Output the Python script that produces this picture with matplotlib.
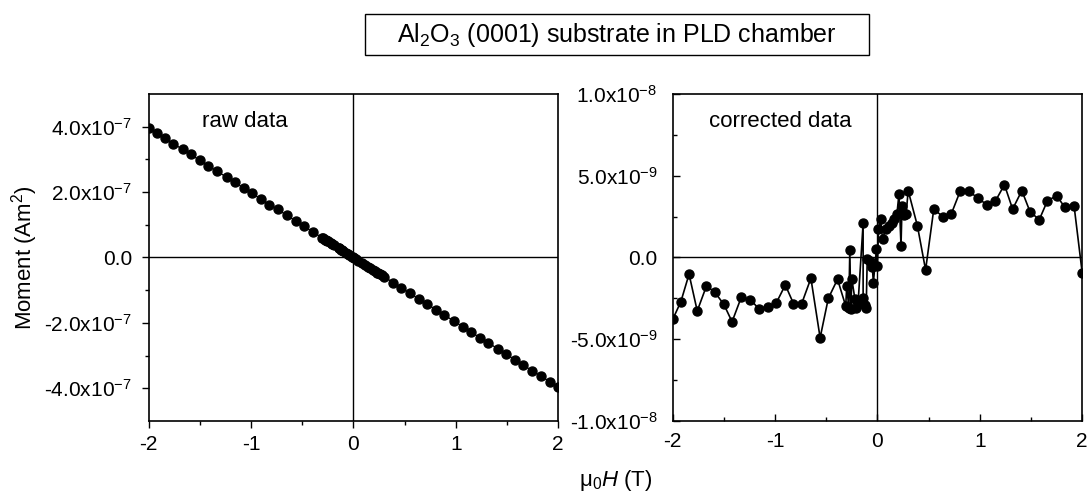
import matplotlib
matplotlib.use("Agg")
import matplotlib.pyplot as plt
import numpy as np
from matplotlib.patches import Rectangle
from matplotlib.ticker import FixedLocator, FixedFormatter, MultipleLocator

plt.rcParams['font.family'] = ['Liberation Sans', 'DejaVu Sans']
plt.rcParams['mathtext.fontset'] = 'custom'
plt.rcParams['mathtext.rm'] = 'Liberation Sans'
plt.rcParams['mathtext.it'] = 'Liberation Sans:italic'
plt.rcParams['mathtext.sf'] = 'Liberation Sans'
plt.rcParams['axes.unicode_minus'] = False

# field (T), same for both panels
field = [-2.0, -1.92, -1.84, -1.76, -1.67, -1.59, -1.50, -1.42, -1.33, -1.24,
         -1.16, -1.07, -0.99, -0.90, -0.82, -0.74, -0.65, -0.56, -0.48, -0.39,
         -0.31, -0.30, -0.28, -0.27, -0.26, -0.25, -0.22, -0.21, -0.19, -0.14,
         -0.14, -0.12, -0.11, -0.10, -0.07, -0.05, -0.04, -0.01, 0.00, 0.01,
         0.03, 0.05, 0.08, 0.11, 0.14, 0.16, 0.19, 0.21, 0.23, 0.24,
         0.26, 0.28, 0.30, 0.39, 0.47, 0.55, 0.64, 0.72, 0.81, 0.89,
         0.98, 1.07, 1.15, 1.24, 1.32, 1.41, 1.49, 1.58, 1.66, 1.75,
         1.83, 1.92, 2.0]

# raw moment, units of 1e-7 Am^2
raw_moment = [3.96, 3.80, 3.64, 3.48, 3.31, 3.15, 2.97, 2.81, 2.63, 2.46,
              2.30, 2.12, 1.96, 1.78, 1.62, 1.47, 1.29, 1.11, 0.95, 0.77,
              0.61, 0.59, 0.55, 0.53, 0.51, 0.50, 0.44, 0.42, 0.38, 0.28,
              0.28, 0.24, 0.22, 0.20, 0.14, 0.10, 0.08, 0.02, 0.00, -0.02,
              -0.06, -0.10, -0.16, -0.22, -0.28, -0.32, -0.38, -0.42, -0.46, -0.48,
              -0.51, -0.55, -0.59, -0.77, -0.93, -1.09, -1.27, -1.43, -1.60, -1.76,
              -1.94, -2.12, -2.28, -2.46, -2.61, -2.79, -2.95, -3.13, -3.29, -3.47,
              -3.62, -3.80, -3.96]

# corrected moment, units of 1e-9 Am^2
corr_moment = [-3.79, -2.70, -1.02, -3.27, -1.74, -2.11, -2.87, -3.93, -2.43, -2.58,
               -3.13, -3.01, -2.80, -1.68, -2.82, -2.82, -1.27, -4.91, -2.50, -1.33,
               -2.97, -1.74, -3.07, 0.45, -3.13, -1.33, -2.55, -3.07, -2.86, 2.10,
               -2.50, -2.90, -3.07, -0.10, -0.20, -0.60, -1.53, 0.49, -0.50, 1.74,
               2.35, 1.12, 1.74, 1.94, 2.10, 2.35, 2.66, 3.88, 0.71, 3.17,
               2.60, 2.66, 4.09, 1.94, -0.76, 2.96, 2.49, 2.65, 4.09, 4.09,
               3.62, 3.23, 3.43, 4.45, 2.96, 4.09, 2.80, 2.31, 3.47, 3.78,
               3.07, 3.17, -0.96]

left_ticks = [-4e-7, -2e-7, 0, 2e-7, 4e-7]
left_labels = [r'-4.0x10$^{-7}$', r'-2.0x10$^{-7}$', '0.0', r'2.0x10$^{-7}$', r'4.0x10$^{-7}$']
right_ticks = [-1e-8, -5e-9, 0, 5e-9, 1e-8]
right_labels = [r'-1.0x10$^{-8}$', r'-5.0x10$^{-9}$', '0.0', r'5.0x10$^{-9}$', r'1.0x10$^{-8}$']

H = np.array(field)
raw = np.array(raw_moment) * 1e-7
corr = np.array(corr_moment) * 1e-9

fig = plt.figure(figsize=(10.89, 4.95), dpi=100)
ax1 = fig.add_axes([0.1366, 0.1495, 0.3758, 0.6606])
ax2 = fig.add_axes([0.6177, 0.1495, 0.3761, 0.6606])

fs = 15

def style(ax, ticks, labels, ylim, direction, ypad):
    ax.set_xlim(-2, 2)
    ax.set_ylim(-ylim, ylim)
    ax.axhline(0, color='black', lw=1.0, zorder=1)
    ax.axvline(0, color='black', lw=1.0, zorder=1)
    ax.xaxis.set_major_locator(MultipleLocator(1))
    ax.xaxis.set_minor_locator(MultipleLocator(0.5))
    ax.yaxis.set_major_locator(FixedLocator(ticks))
    ax.yaxis.set_major_formatter(FixedFormatter(labels))
    ax.yaxis.set_minor_locator(FixedLocator(
        [(a + b) / 2 for a, b in zip(ticks[:-1], ticks[1:])]))
    ax.tick_params(which='major', direction=direction, length=5, width=1.0, labelsize=fs)
    ax.tick_params(which='minor', direction=direction, length=3, width=1.0)
    ax.tick_params(axis='x', which='major', pad=8 if direction == 'in' else 5)
    ax.tick_params(axis='y', which='major', pad=ypad)
    for s in ax.spines.values():
        s.set_linewidth(1.2)

style(ax1, left_ticks, left_labels, 5e-7, 'out', 7)
style(ax2, right_ticks, right_labels, 1e-8, 'in', 11)

ax1.plot(H, raw, '-o', color='black', lw=1.0, ms=6.5, zorder=3)
ax2.plot(H, corr, '-o', color='black', lw=1.2, ms=6.5, zorder=3)

ax1.text(0.235, 0.915, 'raw data', transform=ax1.transAxes, ha='center', va='center', fontsize=16)
ax2.text(0.262, 0.915, 'corrected data', transform=ax2.transAxes, ha='center', va='center', fontsize=16)

ax1.set_ylabel(r'Moment (Am$^{2}$)', fontsize=16, labelpad=3)
fig.text(0.565, 0.03, r'$\mathrm{\mu}_0$$\it{H}$ (T)', ha='center', va='center', fontsize=16)

fig.patches.append(Rectangle((365 / 1089, 1 - 55 / 495), 504 / 1089, 41 / 495,
                             transform=fig.transFigure, fill=False, ec='black', lw=1.0))
fig.text(0.5666, 0.930, r'Al$_2$O$_3$ (0001) substrate in PLD chamber',
         ha='center', va='center', fontsize=18)

fig.savefig('out.png', dpi=100)
